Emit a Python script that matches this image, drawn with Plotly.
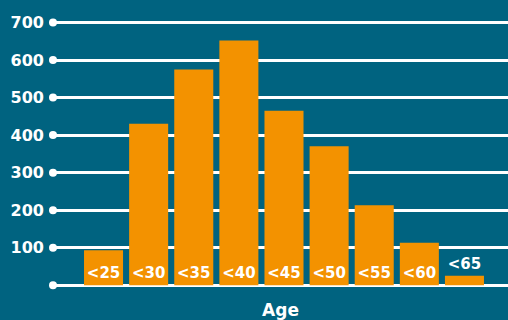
import plotly.graph_objects as go

categories = ["<25", "<30", "<35", "<40", "<45", "<50", "<55", "<60", "<65"]
values = [93, 430, 575, 652, 465, 370, 213, 113, 25]
tick_vals = [0, 100, 200, 300, 400, 500, 600, 700]
tick_text = ["", "100", "200", "300", "400", "500", "600", "700"]

BG = "#006380"
BAR = "#F39200"
FONT = "DejaVu Sans"

xr = [-1.12, 8.965]
positions = ["inside"] * (len(categories) - 1) + ["outside"]
tf = dict(family=FONT, size=16, color="white", weight="bold")
bf = dict(family=FONT, size=15, color="white", weight="bold")

fig = go.Figure()
fig.add_trace(go.Bar(
    x=list(range(len(categories))), y=values, text=categories,
    marker_color=BAR, marker_line_width=0,
    textposition=positions, insidetextanchor="start", textangle=0,
    textfont=bf, insidetextfont=bf, outsidetextfont=bf,
    constraintext="none",
    cliponaxis=False, hoverinfo="skip",
))
fig.add_trace(go.Scatter(
    x=[xr[0]] * len(tick_vals), y=tick_vals, mode="markers",
    marker=dict(color="white", size=8), cliponaxis=False, hoverinfo="skip",
))
fig.update_layout(
    width=508, height=320, paper_bgcolor=BG, plot_bgcolor=BG,
    margin=dict(l=53, r=0, t=15, b=31), showlegend=False, bargap=0.135,
    font=dict(family=FONT, color="white"),
    xaxis=dict(range=xr, showgrid=False, zeroline=False, showticklabels=False,
               title=dict(text="Age", font=dict(family=FONT, size=17, color="white", weight="bold"), standoff=18)),
    yaxis=dict(range=[-10, 720], tickvals=tick_vals, ticktext=tick_text,
               showgrid=True, gridcolor="white", gridwidth=3, zeroline=False,
               tickfont=tf, ticks="", ticklabelstandoff=8),
)
fig.write_html("out.html")
